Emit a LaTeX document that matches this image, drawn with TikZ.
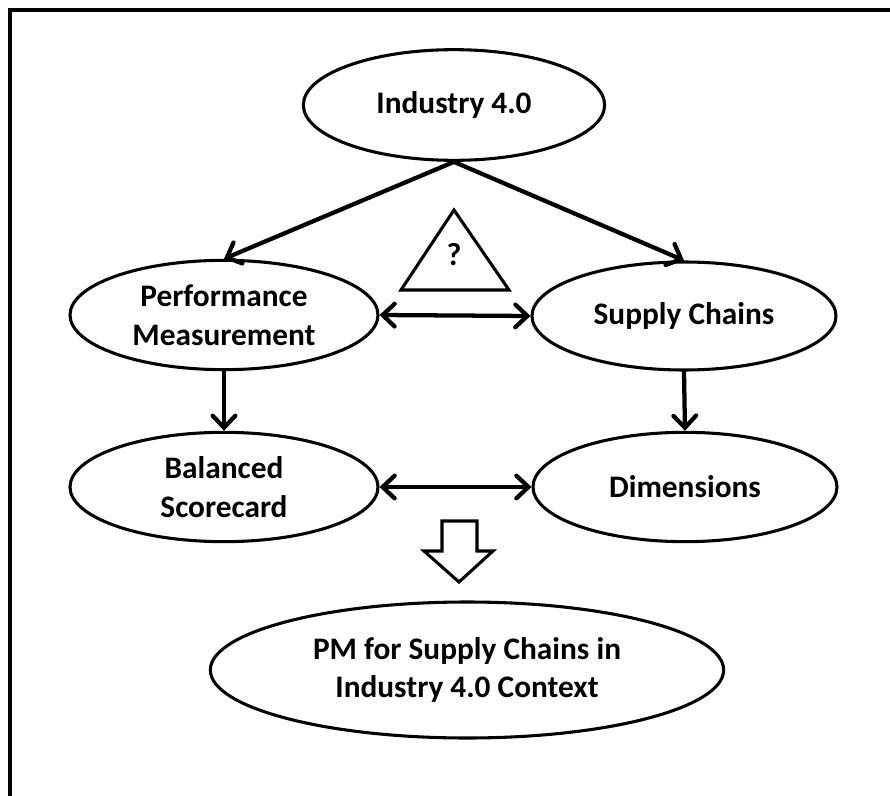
\documentclass[tikz,border=0pt]{standalone}
\usepackage{fontspec}
\setmainfont{Carlito}
\usetikzlibrary{shapes.geometric,arrows.meta}
\begin{document}
\begin{tikzpicture}[x=0.75pt,y=-0.75pt,
		>={Straight Barb[length=9pt,width=17pt,line cap=round]},
		oval/.style={ellipse,draw,line width=2.3pt,align=center,inner sep=0pt,font=\bfseries\fontsize{23.5}{29}\selectfont},
		link/.style={line width=3.2pt,line cap=round}]
		\useasboundingbox (0,0) rectangle (890,796);
		\draw[line width=3pt] (890,10)--(10,10)--(10,796);
		\node[oval,minimum width=226pt,minimum height=83pt] (ind) at (454,105) {Industry 4.0};
		\node[oval,minimum width=231pt,minimum height=82pt] (pm) at (224,315) {Performance\\Measurement};
		\node[oval,minimum width=228pt,minimum height=81pt] (sc) at (684,316) {Supply Chains};
		\node[oval,minimum width=231pt,minimum height=82pt] (bs) at (224,487) {Balanced\\Scorecard};
		\node[oval,minimum width=228pt,minimum height=82pt] (dim) at (685,487) {Dimensions};
		\node[oval,minimum width=385pt,minimum height=102pt] (ctx) at (467,670) {PM for Supply Chains in\\Industry 4.0 Context};
		\draw[line width=2.3pt] (454,210)--(509,290)--(401,290)--cycle;
		\node[font=\bfseries\fontsize{24}{28}\selectfont] (q) at (454,255) {?};
		\draw[link,->] (ind.south)--(pm.north);
		\draw[link,->] (ind.south)--(sc.north);
		\draw[link,<->] (pm.east)--(sc.west);
		\draw[link,->] (pm.south)--(bs.north);
		\draw[link,->] (sc.south)--(dim.north);
		\draw[link,<->] (bs.east)--(dim.west);
		\draw[line width=2.3pt] (442,521)--(477,521)--(477,551)--(493,551)--(459,582)--(424,551)--(442,551)--cycle;
	\end{tikzpicture}
\end{document}
